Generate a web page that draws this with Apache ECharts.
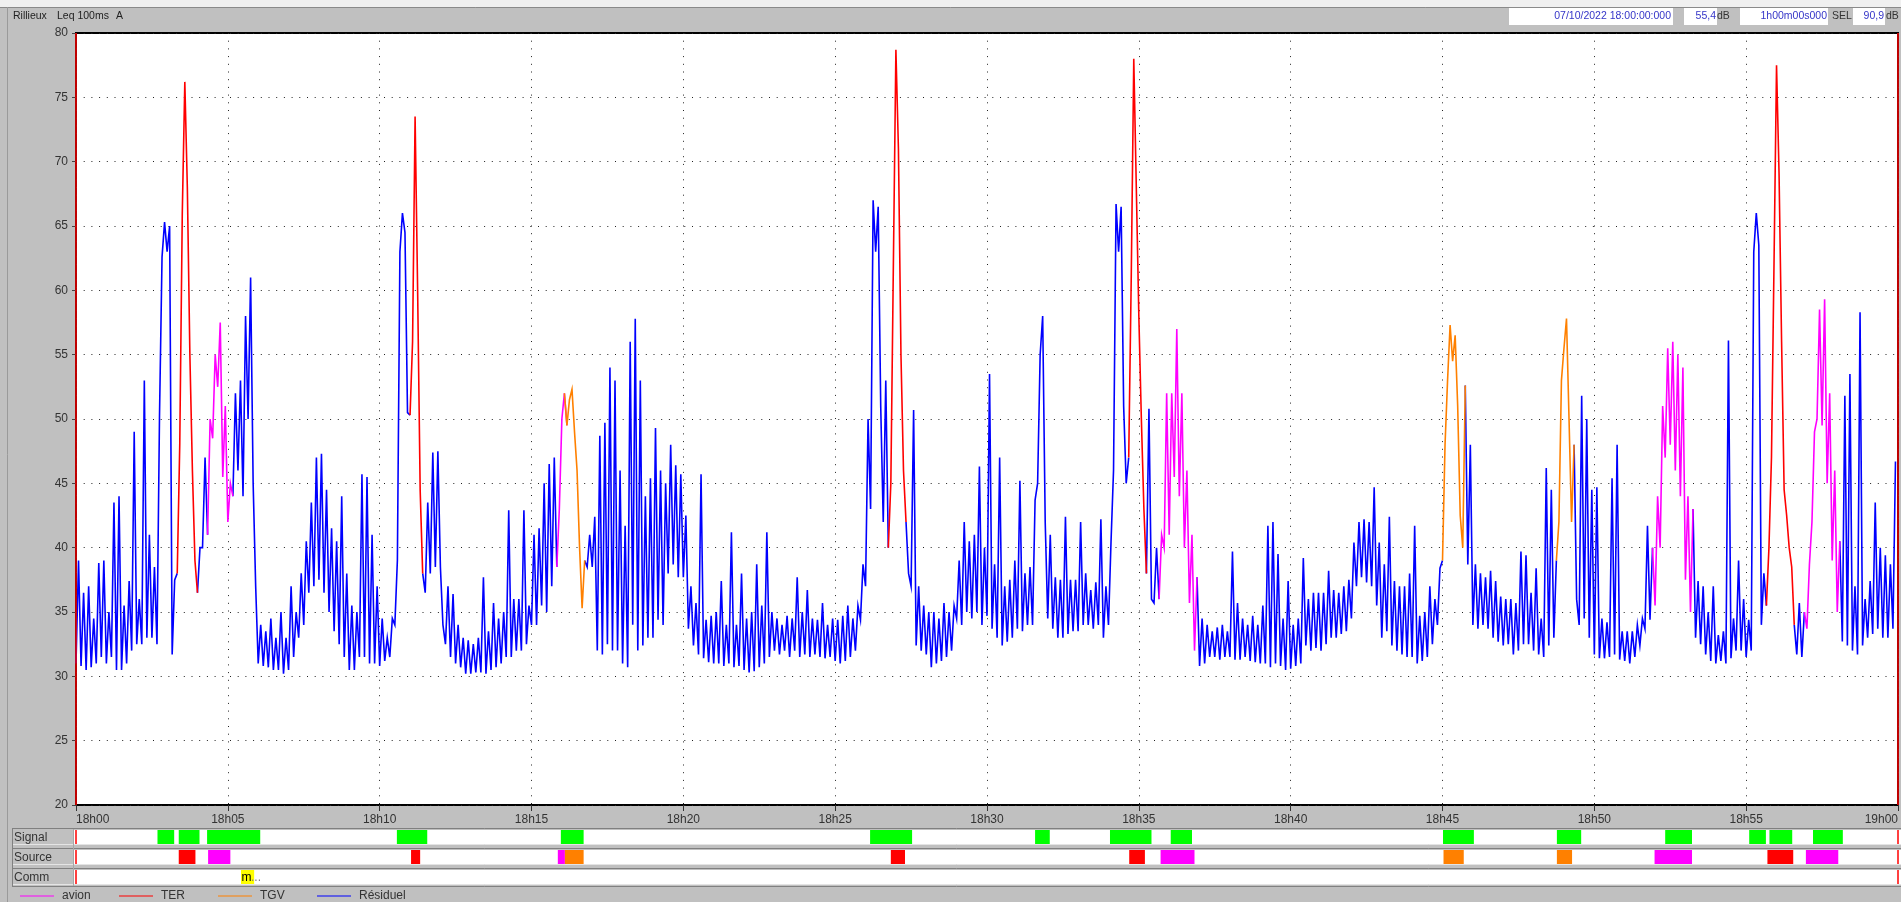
<!DOCTYPE html>
<html>
<head>
<meta charset="utf-8">
<script src="https://cdn.jsdelivr.net/npm/echarts@6/dist/echarts.min.js"></script>
<style>
html,body{margin:0;padding:0;background:#c0c0c0;overflow:hidden;}
#chart{width:1901px;height:902px;}
</style>
</head>
<body>
<div id="chart"></div>
<script>
// ---- DATA ----
// Leq 100ms A, one 10-second window per entry: leqA = reading at window start, leqB = reading at mid-window
const windowSeconds = 10;
const leqA = [
 31,30.8,30.5,30.7,31,31.5,   31,31.5,30.5,30.5,31,32,   32.5,32.5,33,33,32.5,62.6,
 63,31.7,38,66,68,46,   36.5,40,41,48.5,52.5,45.5,   42,44,46,44,50,45,
 31,30.8,30.7,30.5,30.5,30.2,   30.5,31.5,33,34,36.5,37,   37.5,36.5,35,33.5,32.5,31.5,
 30.5,30.5,31.5,31.5,31,31,   30.8,31.2,31.5,34,63,64.5,   50.3,73.5,44.5,36.5,38,38.5,
 38.5,32.5,31.5,31,30.7,30.2,   30.2,30.3,30.3,30.2,30.5,30.7,   31,31.5,31.5,32,32,32.5,
 34,34,35.5,35,37,38.5,   50,49.5,52.3,46,35.3,38.5,   38.5,32,31.7,32.5,32,32,
 31,30.7,34,32,32.4,33,   33,34.4,34,38,38.7,37.7,   37.7,33.7,32.4,31.7,31.4,31.1,
 31,31,30.8,31,30.7,30.8,   30.5,30.3,30.4,30.7,31,31.5,   32,31.7,32,31.5,32,31.5,
 31.7,31.5,31.7,31.5,31.4,31.5,   31.2,31,31.2,31.5,32,34.4,   37,43,63,51,53,45,
 78.7,55,42,37,32.4,32,   31.7,30.7,31,31.2,31.5,32,   34.5,34,35,34.5,35,34,
 34.7,33.7,33,32.4,32.7,33,   33.7,33.5,34,34,45,58,   34.5,33.7,33,33,33.3,33.5,
 33.5,34,34,33.7,34,33,   34,46,63,51,47,78,   58,43,50.8,35.7,36,40,
 41,45.5,44,40,35.7,32,   30.8,31,31.5,31.5,31.3,31.5,   31.5,31.3,31.3,31.5,31.2,31.1,
 31,31,30.7,31,30.8,30.5,   30.6,30.8,31,32.4,32,32.2,   32,32.5,33,33,33.3,33.5,
 34.5,37,37.7,37.3,37,35.5,   33,33.5,32.4,32,31.7,31.5,   31.5,31,31.2,31.5,32.5,34,
 39,53,54.5,51,40,38.7,   34,33.7,34,33.7,33,32.7,   32.4,32.5,31.7,32,32.5,32.5,
 32,31.7,31.5,32.4,33,42,   55.5,50,48,34,34.5,33,   31.7,31.4,31.4,31.5,31.7,31.3,
 31.2,31,31.5,32.4,33.7,34.4,   35.5,40,47,48,46,44,   37.5,35,33,32.5,31.7,31.2,
 31,31.2,31,31.4,32,32,   31.5,32,66,34,35.5,47,   77.5,56,42.5,38.5,31.7,31.5,
 33.7,42,50,49.5,45,39,   35,32.7,32.4,32,31.7,32.4,   33,33.3,33.7,33,33,33.7
];
const leqB = [
 39,36.5,37,34.5,38.8,39,   35,43.5,44,35.5,37.4,49,   36,53,41,38.5,50.3,65.3,
 65,37.5,48,76.2,55,39,   40,47,50,55,57.5,51,   45,52,53,58,61,37,
 34,33.5,34.5,33,35,33,   37,35,38,40.5,43.5,47,   47.3,44.5,41.5,40.5,44,38,
 35.5,35,45.7,45.5,41,37,   34.5,33,34.5,39,66,50.5,   56,60,38,43.5,47.4,47.5,
 34,37,36.4,34,33,32.8,   32.5,33,37.7,33.5,35.7,34.5,   35,42.9,36,36,42.9,35.5,
 41,41.5,45,46.5,47,43,   52,51.5,49,40,39,41,   42.4,48.7,49.7,54,53,46,
 41.7,56,57.8,53,44,45.4,   49.3,46,45,48,46.4,45.7,   42.5,37,35.7,45.7,34.4,34.7,
 35,37.4,34,41.2,34,38,   34.5,35,38.7,35.5,41.2,35,   34.5,34,34.7,34.5,37.7,35,
 36.7,34.5,34.4,35.7,34,34.5,   34.4,34.7,35.5,34.5,35.5,38.7,   50,67,66.5,42,40,62,
 71,46,38,50.7,37,35.5,   35,35,34.5,35.7,35,35.5,   39,42,40.5,41,46.3,40,
 53.5,38.7,47,37,37.5,39,   45.2,38,38.5,43.7,55,42,   41,37.7,37.5,42.4,37.5,37.5,
 42,38,36.7,37.3,42.2,37,   40.4,66.7,66.5,45,61,68,   50,38,36,40,41,52,
 52,57,52,46,41,37.7,   34.5,34,33.5,33.8,34,33.5,   39.7,35.7,34.5,34,34.7,34,
 35.5,41.7,42,39.5,34.5,37.4,   34,34.5,39.2,36,36.5,36.5,   36.5,38.2,36.7,36.5,37,37.5,
 40.4,42,42.2,42,44.7,40.4,   38.7,42.4,37.4,37,37,38,   41.7,34.7,35,37,36,38.4,
 48,57.3,56.5,42.5,52.6,48,   38.7,38,37.7,38.2,37.4,36.2,   36,36,35.7,39.7,39.4,36.5,
 38.4,34.5,46.2,44.5,39,53,   57.8,42,36,51.8,50,44.5,   44.7,34.5,34.2,45.4,48,33.5,
 33.5,33.5,34,34.5,41.7,40,   44,51,55.5,56,55,54,   44,43,37.4,37,35,37,
 33.2,33.5,56.1,34.5,39,36,   34.4,63,63.5,38,40,62,   69,44.5,40,34,35.7,35,
 38.7,49,58.5,59.3,52,46,   40.5,51.8,53.5,37,58.3,36,   37.4,43.5,40,39.4,38.7,46.7
];
// Source identification periods (seconds after 18:00:00)
const sourceType  = ['TER','avion','TER','avion','TGV','TER','TER','avion','TGV','TGV','avion','TER','avion'];
const sourceStart = [203, 261, 662, 952, 966, 1610, 2081, 2143, 2702, 2926, 3119, 3342, 3418];
const sourceEnd   = [236, 305, 680, 966, 1003, 1638, 2112, 2210, 2742, 2956, 3193, 3393, 3482];
// Signal periods
const signalStart = [161, 203, 259, 634, 958, 1569, 1895, 2043, 2163, 2701, 2926, 3140, 3306, 3346, 3432];
const signalEnd   = [194, 244, 364, 694, 1003, 1652, 1924, 2125, 2205, 2762, 2974, 3193, 3339, 3391, 3491];
// Comments
const commStart = [326];
const commEnd   = [352];
const commText  = ['m'];
// Cursors
const cursorTimes = [0, 3600];
// Axis ticks
const xTickLabels = ['18h00','18h05','18h10','18h15','18h20','18h25','18h30','18h35','18h40','18h45','18h50','18h55','19h00'];
const legendNames = ['avion','TER','TGV','Résiduel'];
const seriesColors = {'avion':'#ff00ff','TER':'#ff0000','TGV':'#ff8000','Résiduel':'#0000ff'};
// Header info
const headerStart = '07/10/2022 18:00:00:000';
const headerLeq = '55,4';
const headerDuration = '1h00m00s000';
const headerSel = '90,9';

// ---- BUILD ----
const FONT = '"Liberation Sans", Arial, sans-serif';
const times = [], values = [];
for (let k = 0; k < leqA.length; k++) {
  times.push(k * windowSeconds, k * windowSeconds + windowSeconds / 2);
  values.push(leqA[k], leqB[k]);
}
const pointSource = times.map(t => {
  const j = sourceStart.findIndex((s, i) => t >= s && t <= sourceEnd[i]);
  return j < 0 ? 'Résiduel' : sourceType[j];
});
function lineData(name) {
  return times.map((t, i) => {
    const on = pointSource[i] === name ||
      (name !== 'Résiduel' && (pointSource[i - 1] === name || pointSource[i + 1] === name));
    return [t, on ? values[i] : null];
  });
}
const cursorMarkLine = {
  silent: true, symbol: ['none', 'none'], animation: false,
  label: { show: false },
  lineStyle: { color: '#ff0000', width: 1.5, type: 'solid' },
  data: cursorTimes.map(t => ({ xAxis: t }))
};

const GL = 76, GW = 1822;
const grids = [
  { left: GL, top: 33, width: GW, height: 772, show: true, backgroundColor: '#ffffff', borderColor: '#000', borderWidth: 2, outerBoundsMode: 'none', containLabel: false },
  { left: GL, top: 830, width: GW, height: 14, show: false, outerBoundsMode: 'none', containLabel: false },
  { left: GL, top: 850, width: GW, height: 14, show: false, outerBoundsMode: 'none', containLabel: false },
  { left: GL, top: 870, width: GW, height: 14, show: false, outerBoundsMode: 'none', containLabel: false }
];
const xAxes = [{
  gridIndex: 0, type: 'value', min: 0, max: 3600, interval: 300,
  axisLine: { show: false },
  axisTick: { show: true, length: 6, lineStyle: { color: '#333', width: 1 } },
  axisLabel: {
    color: '#333', fontSize: 12, fontFamily: FONT, margin: 9,
    alignMinLabel: 'left', alignMaxLabel: 'right',
    formatter: v => xTickLabels[Math.round(v / 300)]
  },
  splitLine: { show: true, lineStyle: { color: '#222', width: 1, type: [1, 6.7] } }
}];
const yAxes = [{
  gridIndex: 0, type: 'value', min: 20, max: 80, interval: 5,
  axisLine: { show: false },
  axisTick: { show: true, length: 4, lineStyle: { color: '#444' } },
  axisLabel: { color: '#333', fontSize: 12, fontFamily: FONT, margin: 8 },
  splitLine: { show: true, lineStyle: { color: '#222', width: 1, type: [1, 6.7] } }
}];
for (let g = 1; g <= 3; g++) {
  xAxes.push({ gridIndex: g, type: 'value', min: 0, max: 3600, show: false });
  yAxes.push({ gridIndex: g, type: 'value', min: 0, max: 1, show: false });
}

function blockRenderer(colorOf) {
  return function (params, api) {
    const a = api.coord([api.value(0), 1]);
    const b = api.coord([api.value(1), 0]);
    return { type: 'rect', shape: { x: a[0], y: a[1], width: b[0] - a[0], height: b[1] - a[1] },
             style: { fill: colorOf(api) } };
  };
}

const series = [];
legendNames.forEach(name => {
  series.push({
    name, type: 'line', xAxisIndex: 0, yAxisIndex: 0,
    data: lineData(name), showSymbol: false, symbol: 'none',
    connectNulls: false, animation: false, sampling: null,
    color: seriesColors[name],
    lineStyle: { width: 1.6, color: seriesColors[name], join: 'miter' },
    z: name === 'Résiduel' ? 2 : 3,
    markLine: name === 'Résiduel' ? cursorMarkLine : undefined
  });
});
// Signal strip
series.push({
  name: 'Signal', type: 'custom', xAxisIndex: 1, yAxisIndex: 1, animation: false, z: 3,
  encode: { x: [0, 1] },
  data: signalStart.map((s, i) => [s, signalEnd[i]]),
  renderItem: blockRenderer(() => '#00ff00')
});
// Source strip
series.push({
  name: 'Source', type: 'custom', xAxisIndex: 2, yAxisIndex: 2, animation: false, z: 3,
  encode: { x: [0, 1] },
  data: sourceStart.map((s, i) => [s, sourceEnd[i], legendNames.indexOf(sourceType[i])]),
  renderItem: blockRenderer(api => seriesColors[legendNames[api.value(2)]])
});
// Comm strip
series.push({
  name: 'Comm', type: 'custom', xAxisIndex: 3, yAxisIndex: 3, animation: false, z: 3,
  encode: { x: [0, 1] },
  data: commStart.map((s, i) => [s, commEnd[i], i]),
  renderItem: function (params, api) {
    const a = api.coord([api.value(0), 1]);
    const b = api.coord([api.value(1), 0]);
    const ym = (a[1] + b[1]) / 2;
    return { type: 'group', children: [
      { type: 'rect', shape: { x: a[0], y: a[1], width: b[0] - a[0], height: b[1] - a[1] }, style: { fill: '#ffff00' } },
      { type: 'text', x: a[0] + 0.5, y: ym + 1, style: { text: commText[api.value(2)], fill: '#000', font: '12px ' + FONT, verticalAlign: 'middle', textVerticalAlign: 'middle' } },
      { type: 'text', x: a[0] + 10, y: ym + 1, style: { text: '...', fill: '#808080', font: '12px ' + FONT, verticalAlign: 'middle', textVerticalAlign: 'middle' } }
    ] };
  }
});
// cursors in strips
for (let g = 1; g <= 3; g++) {
  series.push({ type: 'line', xAxisIndex: g, yAxisIndex: g, data: [[0, 0.5]], showSymbol: false, symbol: 'none',
    lineStyle: { width: 0 }, animation: false, z: 4, markLine: cursorMarkLine });
}

// ---- DECORATION ----
function txt(x, y, text, fill, align, size) {
  return { type: 'text', x, y, z: 1, silent: true,
    style: { text, fill: fill || '#222', font: (size || 10.5) + 'px ' + FONT,
      align: align || 'left', textAlign: align || 'left', verticalAlign: 'middle', textVerticalAlign: 'middle' } };
}
function rect(x, y, w, h, fill) { return { type: 'rect', z: 0, silent: true, shape: { x, y, width: w, height: h }, style: { fill } }; }
function hline(x1, x2, y, c) { return { type: 'line', z: 0, silent: true, shape: { x1, y1: y, x2, y2: y }, style: { stroke: c, lineWidth: 1 } }; }
function vline(x, y1, y2, c) { return { type: 'line', z: 0, silent: true, shape: { x1: x, y1, x2: x, y2 }, style: { stroke: c, lineWidth: 1 } }; }

const BLUE_TXT = '#3535c8';
const graphics = [
  rect(0, 0, 1901, 7, '#f0f0f0'),
  hline(0, 1901, 7.5, '#8a8a8a'),
  vline(7.5, 7, 902, '#9a9a9a'),
  txt(13, 16.5, 'Rillieux'),
  txt(57, 16.5, 'Leq 100ms'),
  txt(116, 16.5, 'A'),
  rect(1509, 8, 164, 17, '#ffffff'), txt(1671, 16.5, headerStart, BLUE_TXT, 'right'),
  rect(1684, 8, 33, 17, '#ffffff'), txt(1716, 16.5, headerLeq, BLUE_TXT, 'right'), txt(1717, 16.5, 'dB', '#333'),
  rect(1740, 8, 88, 17, '#ffffff'), txt(1827, 16.5, headerDuration, BLUE_TXT, 'right'), txt(1832, 16.5, 'SEL', '#333'),
  rect(1853, 8, 32, 17, '#ffffff'), txt(1884, 16.5, headerSel, BLUE_TXT, 'right'), txt(1886, 16.5, 'dB', '#333'),
  // strips panel
  hline(12, 1901, 828.5, '#808080'),
  rect(74, 830, 1827, 14, '#ffffff'), hline(12, 1901, 844.5, '#e4e4e4'), hline(12, 1901, 848.5, '#808080'),
  rect(74, 850, 1827, 14, '#ffffff'), hline(12, 1901, 864.5, '#e4e4e4'), hline(12, 1901, 868.5, '#808080'),
  rect(74, 870, 1827, 14, '#ffffff'), hline(12, 1901, 884.5, '#e4e4e4'), hline(12, 1901, 886.5, '#808080'),
  vline(12.5, 828, 887, '#808080'),
  vline(73.5, 829, 886, '#a8a8a8'),
  txt(14, 837.5, 'Signal', '#333', 'left', 12),
  txt(14, 857.5, 'Source', '#333', 'left', 12),
  txt(14, 877.5, 'Comm', '#333', 'left', 12)
];

const legends = legendNames.map((name, i) => ({
  data: [name], left: 20 + 99 * i, top: 890, padding: 0,
  itemWidth: 34, itemHeight: 1, icon: 'rect', selectedMode: false,
  textStyle: { color: '#333', fontSize: 12, fontFamily: FONT, padding: [0, 0, 0, 3] }
}));

const chart = echarts.init(document.getElementById('chart'), null, { renderer: 'canvas', width: 1901, height: 902 });
chart.setOption({
  backgroundColor: '#c0c0c0',
  animation: false,
  textStyle: { fontFamily: FONT },
  grid: grids,
  xAxis: xAxes,
  yAxis: yAxes,
  legend: legends,
  graphic: { elements: graphics },
  series
});
</script>
</body>
</html>
